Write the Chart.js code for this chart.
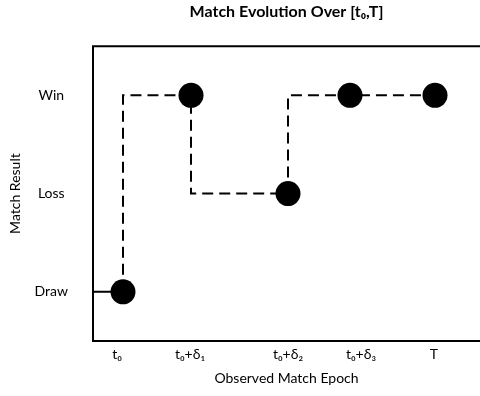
<!DOCTYPE html>
<html>
<head>
<meta charset="utf-8">
<script src="https://cdn.jsdelivr.net/npm/chart.js@4"></script>
<style>
  html, body { margin: 0; padding: 0; background: #fff; overflow: hidden; }
  #wrap { width: 480px; height: 396px; position: relative; }
  canvas { display: block; }
</style>
</head>
<body>
<div id="wrap"><canvas id="matchChart"></canvas></div>
<script>
// result levels, bottom to top
var resultLabels = ["Draw", "Loss", "Win"];

// observed epochs (x) and the result at each one (index into resultLabels)
var epochX = [0, 3.0, 9.8, 19.5, 25.7, 34.2];
var epochResult = [0, 0, 2, 1, 2, 2];

// x axis tick labels and where they sit
var tickLabels = ["t₀", "t₀+δ₁", "t₀+δ₂", "t₀+δ₃", "T"];
var tickValues = [2.4, 9.7, 19.5, 26.8, 34.1];

var xMax = 38.7;

function buildPoints() {
    var pts = [];
    for (var i = 0; i < epochX.length; i++) {
        pts.push({ x: epochX[i], y: epochResult[i] });
    }
    return pts;
}

// black frame: left, top and bottom edges of the plot
var framePlugin = {
    id: "frame",
    beforeDatasetsDraw: function (chart) {
        var a = chart.chartArea;
        var c = chart.ctx;
        c.save();
        c.strokeStyle = "#000";
        c.lineWidth = 2;
        c.beginPath();
        c.moveTo(a.right, a.top);
        c.lineTo(a.left, a.top);
        c.lineTo(a.left, a.bottom);
        c.lineTo(a.right, a.bottom);
        c.stroke();
        c.restore();
    }
};

var fontFam = "Lato, 'Open Sans', sans-serif";

new Chart(document.getElementById("matchChart"), {
    type: "line",
    data: {
        datasets: [{
            data: buildPoints(),
            borderColor: "#000",
            borderWidth: 2,
            stepped: "after",
            borderDash: [11, 6],
            segment: {
                borderDash: function (ctx) {
                    return ctx.p0DataIndex === 0 ? [] : [11, 6];
                }
            },
            pointRadius: function (ctx) { return ctx.dataIndex === 0 ? 0 : 12.5; },
            pointBackgroundColor: "#000",
            pointBorderColor: "#000",
            pointBorderWidth: 0,
            fill: false
        }]
    },
    options: {
        responsive: true,
        maintainAspectRatio: false,
        animation: false,
        layout: { padding: 0, autoPadding: false },
        plugins: {
            legend: { display: false },
            tooltip: { enabled: false },
            title: {
                display: true,
                fullSize: false,
                text: "Match Evolution Over [t₀,T]",
                color: "#000",
                font: { family: fontFam, size: 16, weight: "bold" },
                padding: { top: 2, bottom: 25 }
            }
        },
        scales: {
            x: {
                type: "linear",
                min: 0,
                max: xMax,
                grid: { display: false, drawTicks: false },
                border: { display: false },
                afterFit: function (scale) {
                    scale.height = 55;
                    scale.paddingLeft = 0;
                    scale.paddingRight = 0;
                },
                afterBuildTicks: function (scale) {
                    scale.ticks = tickValues.map(function (v) { return { value: v }; });
                },
                ticks: {
                    color: "#000",
                    font: { family: fontFam, size: 14 },
                    padding: 5,
                    maxRotation: 0,
                    autoSkip: false,
                    callback: function (value, index) { return tickLabels[index]; }
                },
                title: {
                    display: true,
                    text: "Observed Match Epoch",
                    color: "#000",
                    font: { family: fontFam, size: 14 },
                    padding: { top: 0, bottom: 9 }
                }
            },
            y: {
                type: "linear",
                min: -0.5,
                max: 2.5,
                grid: { display: false, drawTicks: false },
                border: { display: false },
                afterFit: function (scale) {
                    scale.width = 93;
                    scale.paddingTop = 0;
                    scale.paddingBottom = 0;
                },
                afterBuildTicks: function (scale) {
                    scale.ticks = resultLabels.map(function (l, i) { return { value: i }; });
                },
                ticks: {
                    color: "#000",
                    font: { family: fontFam, size: 14 },
                    crossAlign: "center",
                    padding: 25,
                    callback: function (value) { return resultLabels[value]; }
                },
                title: {
                    display: true,
                    text: "Match Result",
                    color: "#000",
                    font: { family: fontFam, size: 14 },
                    padding: { top: 7, bottom: 0 }
                }
            }
        }
    },
    plugins: [framePlugin]
});
</script>
</body>
</html>
